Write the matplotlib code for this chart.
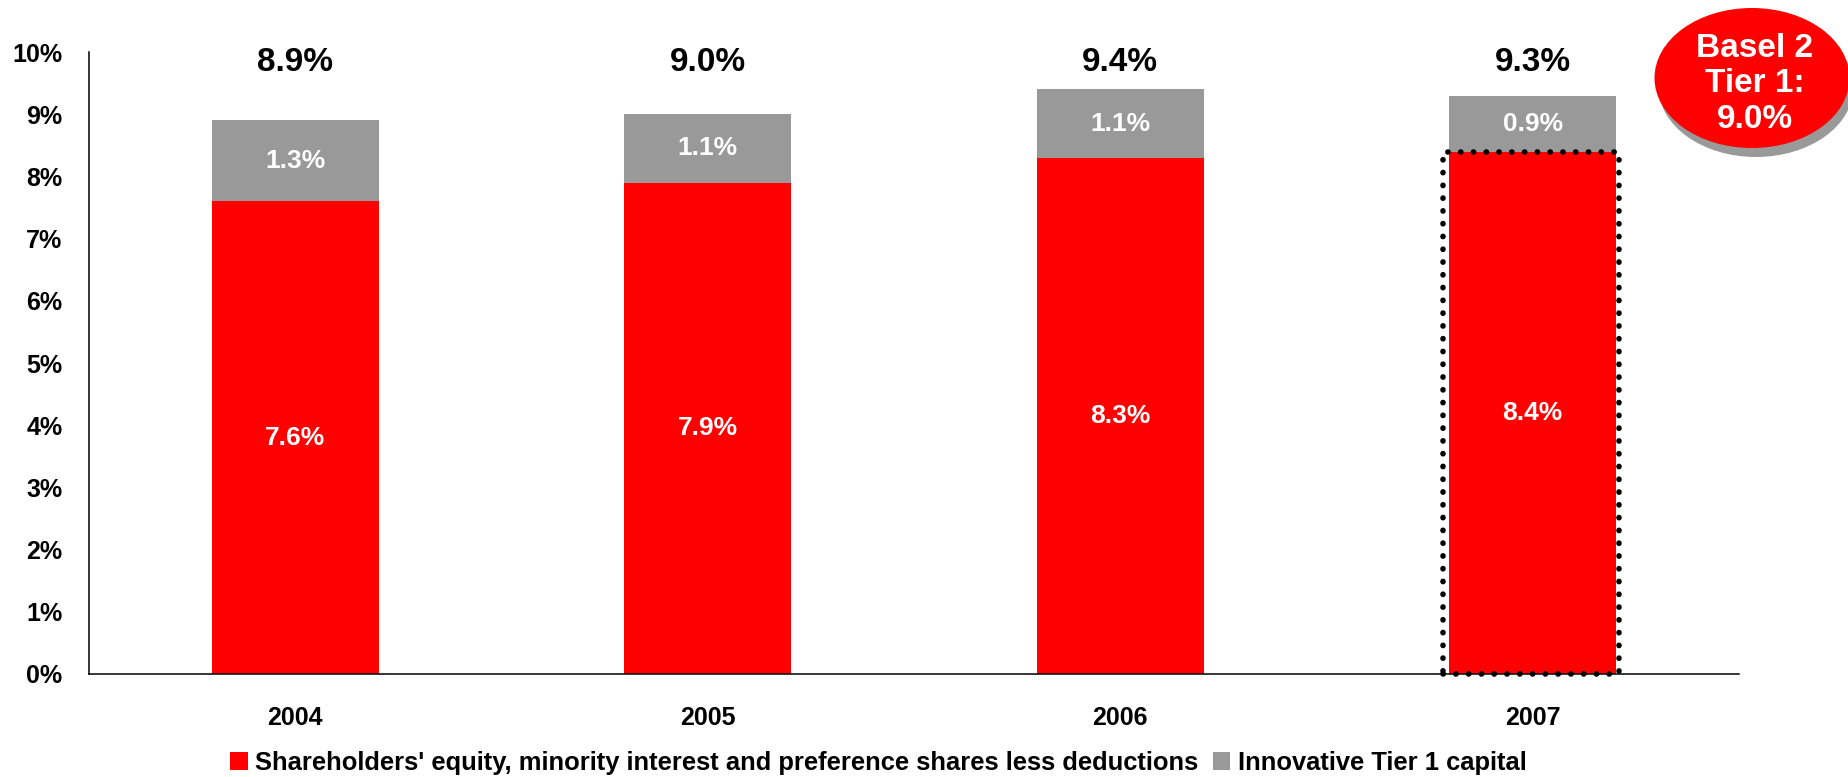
import matplotlib
matplotlib.use("Agg")
import matplotlib.pyplot as plt
from matplotlib.patches import Ellipse, Rectangle, Patch
import numpy as np

plt.rcParams['font.family'] = ['Liberation Sans', 'DejaVu Sans']
plt.rcParams['font.weight'] = 'bold'

years = ["2004", "2005", "2006", "2007"]
equity = [7.6, 7.9, 8.3, 8.4]
innovative = [1.3, 1.1, 1.1, 0.9]
totals = [8.9, 9.0, 9.4, 9.3]
ytick_vals = list(range(0, 11))
legend_labels = ["Shareholders' equity, minority interest and preference shares less deductions",
                 "Innovative Tier 1 capital"]
basel_text = "Basel 2\nTier 1:\n9.0%"

RED = "#FF0000"
GREY = "#999999"

fig = plt.figure(figsize=(18.49, 7.77), dpi=100)
ax = fig.add_axes([0.0481, 0.1326, 0.8924, 0.8004])

x = np.arange(len(years))
w = 0.405
ax.bar(x, equity, width=w, color=RED, zorder=2)
ax.bar(x, innovative, width=w, bottom=equity, color=GREY, zorder=2)

for xi, e, i, t in zip(x, equity, innovative, totals):
    ax.text(xi, e / 2, f"{e:.1f}%", ha="center", va="center", color="white",
            fontsize=19, fontweight="bold", zorder=4)
    ax.text(xi, e + i / 2, f"{i:.1f}%", ha="center", va="center", color="white",
            fontsize=19, fontweight="bold", zorder=4)
    ax.text(xi, 9.84, f"{t:.1f}%", ha="center", va="center", color="black",
            fontsize=24, fontweight="bold", zorder=4)

# dotted outline highlighting the latest equity bar
hl = Rectangle((x[-1] - 0.218, 0), 0.4265, equity[-1], fill=False, edgecolor="black",
               linewidth=4.0, linestyle=(0, (0.05, 2.25)), capstyle="round", zorder=3,
               clip_on=False)
ax.add_patch(hl)

ax.set_xlim(-0.5, 3.5)
ax.set_ylim(0, 10)
ax.set_xticks(x)
ax.set_xticklabels(years, fontsize=18, fontweight="bold")
ax.set_yticks(ytick_vals)
ax.set_yticklabels([f"{v}%" for v in ytick_vals], fontsize=18, fontweight="bold")
ax.tick_params(axis="both", length=0)
ax.tick_params(axis="y", pad=19)
ax.tick_params(axis="x", pad=23)
for s in ["top", "right"]:
    ax.spines[s].set_visible(False)
for s in ["left", "bottom"]:
    ax.spines[s].set_linewidth(1.1)
    ax.spines[s].set_color("black")

handles = [Patch(facecolor=RED, edgecolor="none"), Patch(facecolor=GREY, edgecolor="none")]
fig.legend(handles, legend_labels, loc="center", bbox_to_anchor=(0.475, 0.018),
           ncol=2, frameon=False, handlelength=0.7, handleheight=0.7,
           handletextpad=0.3, columnspacing=0.55, prop={'weight': 'bold', 'size': 18.4})

# Basel 2 callout bubble with drop shadow
cx, cy = 17.52, 7.77 - 0.78
shadow = Ellipse((cx + 0.04, cy - 0.09), 1.95, 1.40, transform=fig.dpi_scale_trans,
                 facecolor=GREY, edgecolor="none", zorder=5)
bubble = Ellipse((cx, cy), 1.95, 1.40, transform=fig.dpi_scale_trans,
                 facecolor=RED, edgecolor="none", zorder=6)
fig.patches.extend([shadow, bubble])
fig.text(17.55 / 18.49, (7.77 - 0.84) / 7.77, basel_text, ha="center", va="center",
         color="white", fontsize=24, fontweight="bold", linespacing=1.2, zorder=7)

fig.savefig("out.png", dpi=100)
